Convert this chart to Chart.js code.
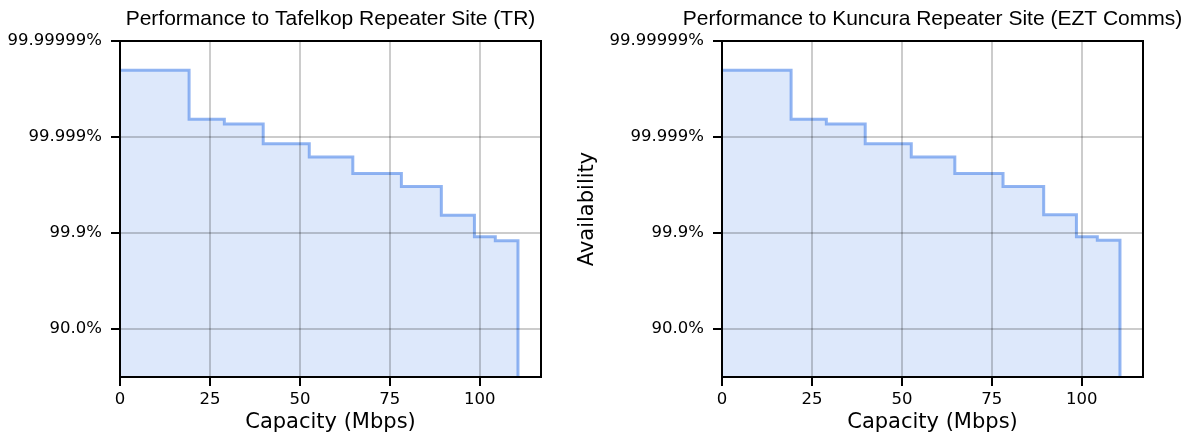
<!DOCTYPE html>
<html>
<head>
<meta charset="utf-8">
<script src="https://cdn.jsdelivr.net/npm/chart.js@4.4.0/dist/chart.umd.min.js"></script>
<style>
  html, body { margin: 0; padding: 0; background: #fff; }
  body { width: 1195px; height: 437px; position: relative; overflow: hidden; }
  canvas { position: absolute; top: 0; }
  #graficoTR { left: 0; }
  #graficoEZT { left: 560px; }
</style>
</head>
<body>
<canvas id="graficoTR" width="560" height="437"></canvas>
<canvas id="graficoEZT" width="635" height="437"></canvas>
<script>
// capacidade (Mbps) onde cada degrau começa, e disponibilidade em "noves" (-log10 da indisponibilidade)
const capacidadeTR = [0, 19.2, 29.0, 39.8, 52.6, 64.7, 78.2, 89.3, 98.5, 104.3, 110.6];
const novesTR = [6.39, 5.37, 5.27, 4.86, 4.585, 4.24, 3.97, 3.37, 2.92, 2.84, 0];

const capacidadeEZT = [0, 19.2, 29.0, 39.8, 52.6, 64.7, 78.1, 89.4, 98.5, 104.3, 110.6];
const novesEZT = [6.39, 5.37, 5.27, 4.86, 4.585, 4.24, 3.97, 3.38, 2.92, 2.85, 0];

const xTicks = [0, 25, 50, 75, 100];
const yTicks = [1, 3, 5, 7];
const yTickLabels = ['90.0%', '99.9%', '99.999%', '99.99999%'];

const fonteTick = { family: 'DejaVu Sans', size: 16.5 };
const fonteEixo = { family: 'DejaVu Sans', size: 21 };

// titulo centrado sobre a area do grafico + moldura preta
const molduraPlugin = {
  id: 'moldura',
  afterDraw(chart, args, opts) {
    const { ctx, chartArea } = chart;
    ctx.save();
    ctx.font = '21px "Liberation Sans", Arial, sans-serif';
    ctx.fillStyle = '#000';
    ctx.textAlign = 'center';
    ctx.textBaseline = 'alphabetic';
    ctx.fillText(opts.texto, (chartArea.left + chartArea.right) / 2, 25);
    ctx.lineWidth = 2;
    ctx.strokeStyle = '#000';
    ctx.strokeRect(chartArea.left, chartArea.top, chartArea.right - chartArea.left, chartArea.bottom - chartArea.top);
    ctx.restore();
  }
};

function criarGrafico(id, titulo, capacidade, noves, mostrarTituloY, larguraY, padDireita) {
  const pontos = capacidade.map((c, i) => ({ x: c, y: noves[i] }));
  const grade = { color: 'rgba(0,0,0,0.2)', lineWidth: 2, z: 1, tickColor: '#000', tickWidth: 2, tickLength: 9 };

  return new Chart(document.getElementById(id), {
    type: 'line',
    data: {
      datasets: [{
        data: pontos,
        stepped: 'before',
        borderColor: 'rgba(100,149,237,0.7)',
        backgroundColor: 'rgba(100,149,237,0.22)',
        borderWidth: 3,
        pointRadius: 0,
        fill: 'origin'
      }]
    },
    options: {
      responsive: false,
      animation: false,
      layout: { padding: { left: 0, right: padDireita, top: 41, bottom: 0 } },
      plugins: {
        legend: { display: false },
        tooltip: { enabled: false },
        moldura: { texto: titulo }
      },
      scales: {
        x: {
          type: 'linear', min: 0, max: 117,
          afterBuildTicks: s => { s.ticks = xTicks.map(v => ({ value: v })); },
          afterFit: s => { s.height = 60; },
          grid: grade,
          border: { display: false },
          ticks: { font: fonteTick, color: '#000', padding: 4, maxRotation: 0 },
          title: { display: true, text: 'Capacity (Mbps)', font: fonteEixo, color: '#000', padding: { top: 0, bottom: 2 } }
        },
        y: {
          type: 'linear', min: 0, max: 7,
          afterBuildTicks: s => { s.ticks = yTicks.map(v => ({ value: v })); },
          afterFit: s => { s.width = larguraY; },
          grid: grade,
          border: { display: false },
          ticks: { font: fonteTick, color: '#000', padding: 9, callback: (v, i) => yTickLabels[i] },
          title: { display: mostrarTituloY, text: 'Availability', font: fonteEixo, color: '#000', padding: { top: 15, bottom: 0 } }
        }
      }
    },
    plugins: [molduraPlugin]
  });
}

criarGrafico('graficoTR', 'Performance to Tafelkop Repeater Site (TR)', capacidadeTR, novesTR, false, 120, 19);
criarGrafico('graficoEZT', 'Performance to Kuncura Repeater Site (EZT Comms)', capacidadeEZT, novesEZT, true, 162, 52);
</script>
</body>
</html>
